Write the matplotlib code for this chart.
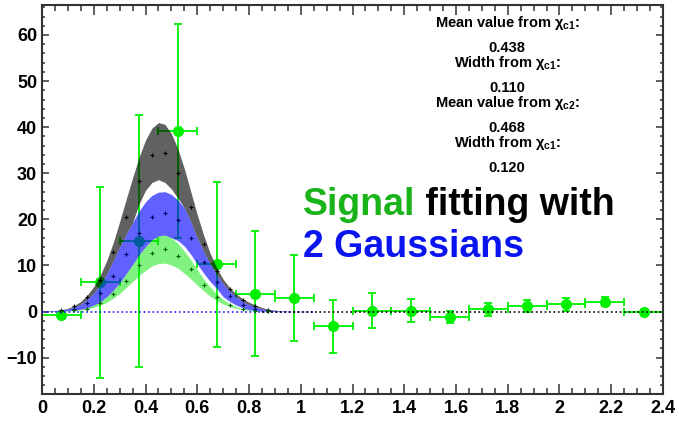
import matplotlib
matplotlib.use("Agg")
import matplotlib.pyplot as plt
import numpy as np
from matplotlib.ticker import MultipleLocator

plt.rcParams['font.family'] = ['Liberation Sans', 'DejaVu Sans']
plt.rcParams['font.weight'] = 'bold'
plt.rcParams['mathtext.fontset'] = 'custom'
plt.rcParams['mathtext.rm'] = 'Liberation Sans:bold'
plt.rcParams['mathtext.it'] = 'Liberation Sans:bold'
plt.rcParams['mathtext.bf'] = 'Liberation Sans:bold'

# measured signal points (bin centre, value, errors)
bin_x = [0.075, 0.225, 0.375, 0.525, 0.675, 0.825, 0.975, 1.125,
         1.275, 1.425, 1.575, 1.725, 1.875, 2.025, 2.175, 2.325]
bin_y = [-0.8, 6.3, 15.3, 39.1, 10.3, 3.9, 2.9, -3.2,
         0.2, 0.2, -1.2, 0.5, 1.1, 1.6, 2.1, -0.1]
bin_yerr = [0.3, 20.7, 27.4, 23.2, 17.9, 13.6, 9.4, 5.8,
            3.8, 2.5, 1.4, 1.4, 1.3, 1.4, 1.0, 0.4]
bin_xerr = 0.075

# fit bands
band_x = [0.000, 0.025, 0.050, 0.075, 0.100, 0.125, 0.150, 0.175, 0.200, 0.225,
          0.250, 0.275, 0.300, 0.325, 0.350, 0.375, 0.400, 0.425, 0.450, 0.475,
          0.500, 0.525, 0.550, 0.575, 0.600, 0.625, 0.650, 0.675, 0.700, 0.725,
          0.750, 0.775, 0.800, 0.825, 0.850, 0.875, 0.900, 0.925, 0.950]
total_hi = [0.05, 0.1, 0.2, 0.4, 0.7, 1.3, 2.2, 3.6, 5.4, 7.9,
            11.0, 14.9, 19.5, 24.3, 29.0, 33.5, 37.2, 39.8, 41.0, 40.6,
            38.6, 35.3, 31.0, 26.0, 21.0, 16.5, 12.6, 9.5, 7.0, 5.2,
            3.8, 2.8, 2.0, 1.4, 0.9, 0.5, 0.3, 0.15, 0.05]
total_lo = [0.04, 0.08, 0.15, 0.3, 0.55, 1.0, 1.6, 2.7, 4.0, 5.8,
            8.2, 11.0, 14.0, 16.8, 19.3, 23.3, 26.3, 28.0, 28.6, 28.0,
            26.6, 24.6, 22.5, 19.5, 16.0, 13.0, 10.3, 8.0, 6.0, 4.4,
            3.2, 2.2, 1.5, 1.0, 0.6, 0.35, 0.2, 0.1, 0.04]
c1_hi = [0.04, 0.08, 0.15, 0.3, 0.55, 1.0, 1.6, 2.7, 4.0, 5.8,
         8.2, 11.0, 14.0, 16.8, 19.3, 21.8, 23.8, 25.2, 25.9, 26.0,
         25.4, 24.2, 22.5, 19.5, 16.0, 13.0, 10.3, 8.0, 6.0, 4.4,
         3.2, 2.2, 1.5, 1.0, 0.6, 0.35, 0.2, 0.1, 0.04]
c1_lo = [0.0, 0.0, 0.0, 0.1, 0.2, 0.3, 0.5, 0.8, 1.4, 2.1,
         3.2, 4.6, 6.2, 8.2, 10.2, 12.3, 14.1, 15.6, 16.4, 16.6,
         16.0, 15.4, 14.2, 12.4, 10.3, 8.3, 6.5, 5.0, 3.2, 2.2,
         1.4, 0.8, 0.4, 0.2, 0.1, 0.05, 0.05, 0.02, 0.0]
c2_hi = [0.0, 0.0, 0.0, 0.1, 0.2, 0.3, 0.5, 0.8, 1.4, 2.1,
         3.2, 4.6, 6.2, 8.2, 10.2, 12.3, 14.1, 15.6, 16.4, 16.6,
         16.0, 14.8, 13.1, 11.2, 9.1, 7.0, 5.3, 3.8, 2.6, 1.7,
         1.1, 0.6, 0.4, 0.2, 0.1, 0.05, 0.02, 0.0, 0.0]
c2_lo = [0.0, 0.0, 0.0, 0.05, 0.1, 0.2, 0.3, 0.5, 0.9, 1.4,
         2.0, 2.9, 3.9, 5.2, 6.5, 7.8, 8.9, 9.9, 10.4, 10.5,
         10.1, 9.4, 8.3, 7.1, 5.7, 4.5, 3.3, 2.4, 1.6, 1.1,
         0.7, 0.4, 0.2, 0.1, 0.06, 0.03, 0.01, 0.0, 0.0]

# fit tails drawn as dotted lines
total_tail_x = [0.85, 2.4]
total_tail_y = [0.0, 0.0]
c1_tail_x = [0.0, 1.05]
c1_tail_y = [0.0, 0.0]

fit_labels = ["Mean value from $\\chi_{c1}$:", "0.438",
              "Width from $\\chi_{c1}$:", "0.110",
              "Mean value from $\\chi_{c2}$:", "0.468",
              "Width from $\\chi_{c1}$:", "0.120"]

fig = plt.figure(figsize=(6.79, 4.25), dpi=100)
ax = fig.add_axes([0.0619, 0.0729, 0.9145, 0.9153])

ax.errorbar(bin_x, bin_y, xerr=bin_xerr, yerr=bin_yerr, fmt='o', color='#00f000',
            ms=7, elinewidth=1.3, capsize=3, capthick=1.3, zorder=2)

bx = np.array(band_x)
ax.fill_between(bx, c2_lo, c2_hi, color='#00e600', alpha=0.5, lw=0, zorder=3)
ax.fill_between(bx, c1_lo, c1_hi, color='#0000ff', alpha=0.62, lw=0, zorder=3)
ax.fill_between(bx, total_lo, total_hi, color='black', alpha=0.62, lw=0, zorder=3)

ax.plot(c1_tail_x, c1_tail_y, ':', color='#2020ff', lw=1.2, zorder=3)
ax.plot(total_tail_x, total_tail_y, ':', color='black', lw=1.2, zorder=3)

# small markers at band centres
for lo, hi, col in [(total_lo, total_hi, 'black'), (c1_lo, c1_hi, '#000060'),
                    (c2_lo, c2_hi, '#006000')]:
    mid = (np.array(lo) + np.array(hi)) / 2
    sel = slice(3, 36, 2)
    ax.plot(bx[sel], mid[sel], '+', color=col, ms=2.5, mew=0.8, zorder=4)

ax.set_xlim(0, 2.4)
ax.set_ylim(-17.9, 66.5)
ax.xaxis.set_major_locator(MultipleLocator(0.2))
ax.xaxis.set_minor_locator(MultipleLocator(0.05))
ax.yaxis.set_major_locator(MultipleLocator(10))
ax.yaxis.set_minor_locator(MultipleLocator(2))
ax.set_xticks(np.arange(0, 2.41, 0.2))
ax.set_xticklabels(['0', '0.2', '0.4', '0.6', '0.8', '1', '1.2', '1.4',
                    '1.6', '1.8', '2', '2.2', '2.4'])

ax.tick_params(axis='both', which='both', direction='in', top=True, right=True,
               color='#333333', width=1.1, labelsize=13)
ax.tick_params(axis='x', which='major', length=7.5, pad=4)
ax.tick_params(axis='x', which='minor', length=4)
ax.tick_params(axis='y', which='major', length=5, pad=3.5)
ax.tick_params(axis='y', which='minor', length=2.5)
for sp in ax.spines.values():
    sp.set_color('#333333')
    sp.set_linewidth(1.5)
for lab in ax.get_xticklabels() + ax.get_yticklabels():
    lab.set_fontweight('bold')

baselines = [26.7, 51.7, 66.7, 91.7, 106.7, 131.7, 146.7, 171.7]
for txt, ypx in zip(fit_labels, baselines):
    ax.text(0.749, (394 - ypx) / 389, txt, transform=ax.transAxes, ha='center',
            va='baseline', fontsize=10.5, fontweight='bold', zorder=5)

t1 = ax.text(0.420, 0.460, "Signal", transform=ax.transAxes, fontsize=27,
             fontweight='bold', color='#1ab31a', va='baseline', ha='left', zorder=5)
ax.annotate(" fitting with", xy=(1, 0), xycoords=t1, fontsize=27,
            fontweight='bold', color='black', va='bottom', ha='left', zorder=5)
ax.text(0.420, 0.352, "2 Gaussians", transform=ax.transAxes, fontsize=27,
        fontweight='bold', color='#0a14f0', va='baseline', ha='left', zorder=5)

fig.savefig("out.png", dpi=100)
